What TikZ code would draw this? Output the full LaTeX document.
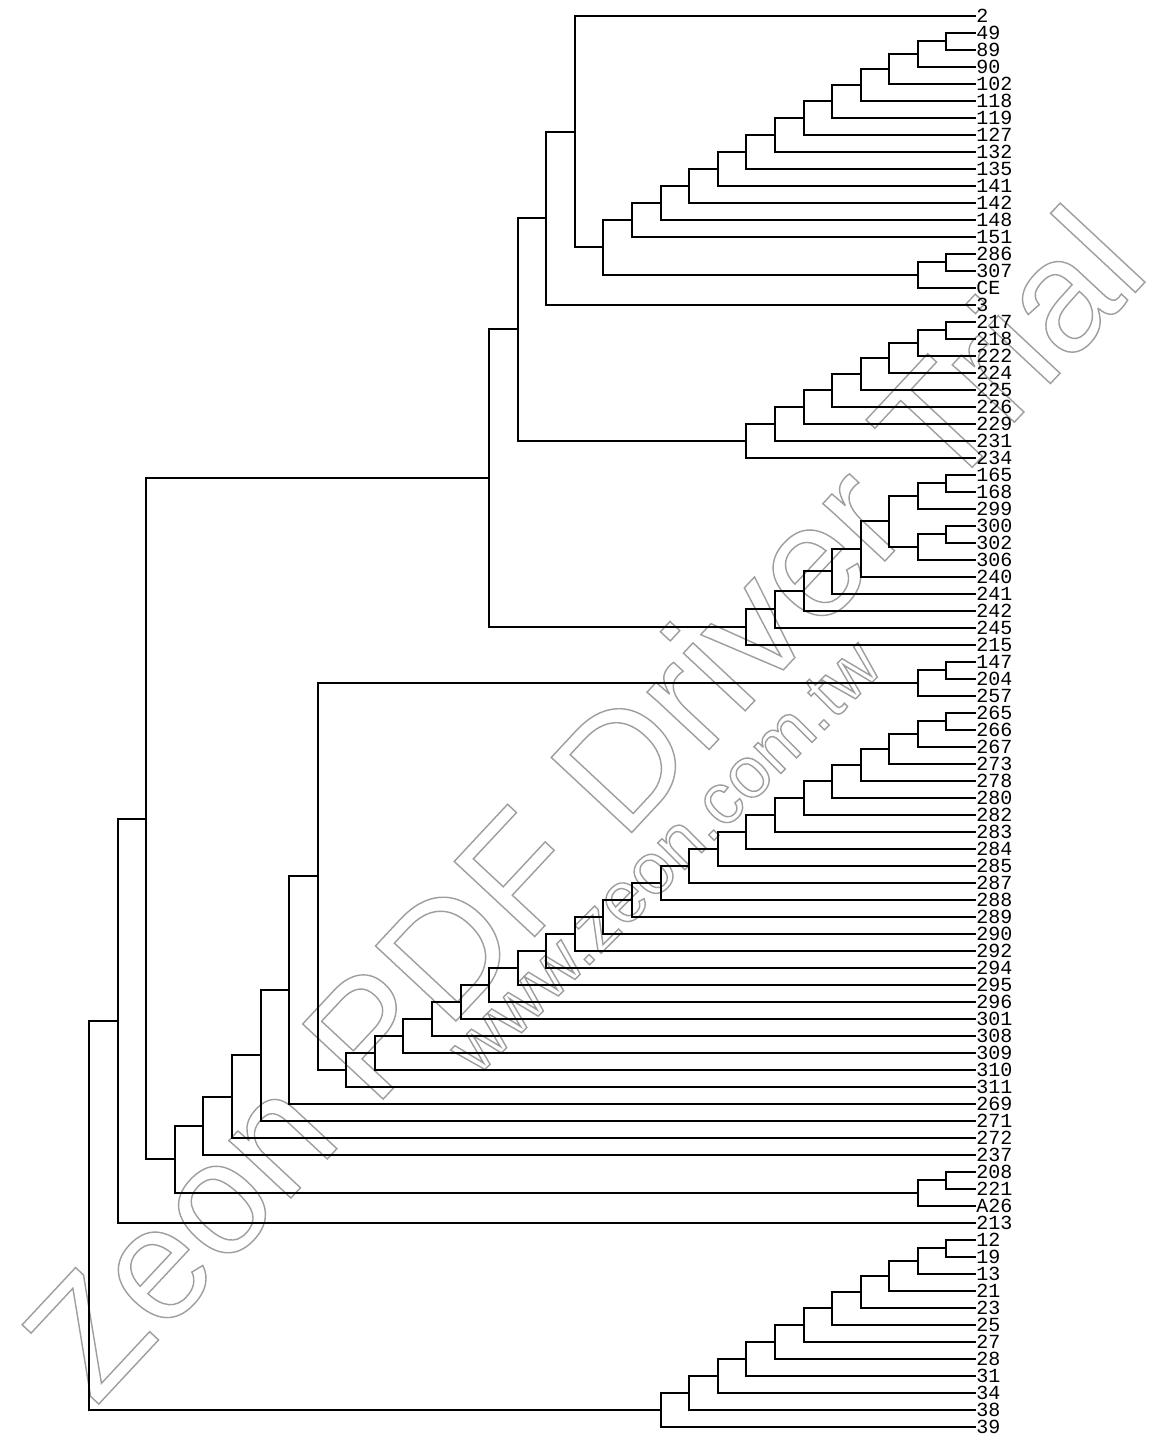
\documentclass[tikz,border=0pt]{standalone}
\usepackage{fontspec}
\setmainfont{Liberation Sans}
\newfontfamily\lblfont{Liberation Mono}
\newfontfamily\wmfont{Liberation Sans}
\usetikzlibrary{calc}
\newcommand\wmon{\special{pdf:literal direct 1 Tr 0.7 w}}
\newcommand\wmoff{\special{pdf:literal direct 0 Tr}}
\newcommand\mrg[4]{%
  \coordinate (#1m) at ($(#2)!0.5!(#3)$);
  \coordinate (#1) at (#1m -| L#4);
  \draw[br] (#2) -| (#1) |- (#3);
}
\tikzset{
  lbl/.style={font=\lblfont\fontsize{10}{10}\selectfont, inner sep=0pt, anchor=west},
  br/.style={line width=1pt, black},
  wmA/.style={font=\wmfont\fontsize{80}{80}\selectfont, text=black!38, inner sep=0pt},
  wmB/.style={font=\wmfont\fontsize{36}{36}\selectfont, text=black!38, inner sep=0pt}
}
\begin{document}
\begin{tikzpicture}[x=0.5pt,y=-0.5pt]
\useasboundingbox (0,0) rectangle (1154,1435);
\fill[white] (0,0) rectangle (1154,1435);
% watermark
\node[wmA, rotate=47] (wm1) at (582,802) {\wmon Zeon PDF Driver Trial\wmoff};
\node[wmB, rotate=45] (wm2) at (665,857) {\wmon www.zeon.com.tw\wmoff};
% levels
\foreach \k in {1,...,31} \coordinate (L\k) at ({975-28.58*\k},0);
% leaves
\foreach \i/\t in {1/2,2/49,3/89,4/90,5/102,6/118,7/119,8/127,9/132,10/135,
 11/141,12/142,13/148,14/151,15/286,16/307,17/CE,18/3,19/217,20/218,
 21/222,22/224,23/225,24/226,25/229,26/231,27/234,28/165,29/168,30/299,
 31/300,32/302,33/306,34/240,35/241,36/242,37/245,38/215,39/147,40/204,
 41/257,42/265,43/266,44/267,45/273,46/278,47/280,48/282,49/283,50/284,
 51/285,52/287,53/288,54/289,55/290,56/292,57/294,58/295,59/296,60/301,
 61/308,62/309,63/310,64/311,65/269,66/271,67/272,68/237,69/208,70/221,
 71/A26,72/213,73/12,74/19,75/13,76/21,77/23,78/25,79/27,80/28,
 81/31,82/34,83/38,84/39}
  \node[lbl] (l\i) at (976,{15.7+(\i-1)*17}) {\t};
% top cluster
\mrg{a1}{l2.west}{l3.west}{1}
\mrg{a2}{a1}{l4.west}{2}
\mrg{a3}{a2}{l5.west}{3}
\mrg{a4}{a3}{l6.west}{4}
\mrg{a5}{a4}{l7.west}{5}
\mrg{a6}{a5}{l8.west}{6}
\mrg{a7}{a6}{l9.west}{7}
\mrg{a8}{a7}{l10.west}{8}
\mrg{a9}{a8}{l11.west}{9}
\mrg{a10}{a9}{l12.west}{10}
\mrg{a11}{a10}{l13.west}{11}
\mrg{a12}{a11}{l14.west}{12}
\mrg{b1}{l15.west}{l16.west}{1}
\mrg{b2}{b1}{l17.west}{2}
\mrg{c1}{a12}{b2}{13}
\mrg{c2}{l1.west}{c1}{14}
\mrg{c3}{c2}{l18.west}{15}
\mrg{d1}{l19.west}{l20.west}{1}
\mrg{d2}{d1}{l21.west}{2}
\mrg{d3}{d2}{l22.west}{3}
\mrg{d4}{d3}{l23.west}{4}
\mrg{d5}{d4}{l24.west}{5}
\mrg{d6}{d5}{l25.west}{6}
\mrg{d7}{d6}{l26.west}{7}
\mrg{d8}{d7}{l27.west}{8}
\mrg{c4}{c3}{d8}{16}
\mrg{e1}{l28.west}{l29.west}{1}
\mrg{e2}{e1}{l30.west}{2}
\mrg{e3}{l31.west}{l32.west}{1}
\mrg{e4}{e3}{l33.west}{2}
\mrg{e5}{e2}{e4}{3}
\mrg{e6}{e5}{l34.west}{4}
\mrg{e7}{e6}{l35.west}{5}
\mrg{e8}{e7}{l36.west}{6}
\mrg{e9}{e8}{l37.west}{7}
\mrg{e10}{e9}{l38.west}{8}
\mrg{c5}{c4}{e10}{17}
% middle cluster
\mrg{f1}{l39.west}{l40.west}{1}
\mrg{f2}{f1}{l41.west}{2}
\mrg{g1}{l42.west}{l43.west}{1}
\mrg{g2}{g1}{l44.west}{2}
\mrg{g3}{g2}{l45.west}{3}
\mrg{g4}{g3}{l46.west}{4}
\mrg{g5}{g4}{l47.west}{5}
\mrg{g6}{g5}{l48.west}{6}
\mrg{g7}{g6}{l49.west}{7}
\mrg{g8}{g7}{l50.west}{8}
\mrg{g9}{g8}{l51.west}{9}
\mrg{g10}{g9}{l52.west}{10}
\mrg{g11}{g10}{l53.west}{11}
\mrg{g12}{g11}{l54.west}{12}
\mrg{g13}{g12}{l55.west}{13}
\mrg{g14}{g13}{l56.west}{14}
\mrg{g15}{g14}{l57.west}{15}
\mrg{g16}{g15}{l58.west}{16}
\mrg{g17}{g16}{l59.west}{17}
\mrg{g18}{g17}{l60.west}{18}
\mrg{g19}{g18}{l61.west}{19}
\mrg{g20}{g19}{l62.west}{20}
\mrg{g21}{g20}{l63.west}{21}
\mrg{g22}{g21}{l64.west}{22}
\mrg{h1}{f2}{g22}{23}
\mrg{h2}{h1}{l65.west}{24}
\mrg{h3}{h2}{l66.west}{25}
\mrg{h4}{h3}{l67.west}{26}
\mrg{h5}{h4}{l68.west}{27}
\mrg{i1}{l69.west}{l70.west}{1}
\mrg{i2}{i1}{l71.west}{2}
\mrg{h6}{h5}{i2}{28}
\mrg{r1}{c5}{h6}{29}
\mrg{r2}{r1}{l72.west}{30}
% bottom cluster
\mrg{j1}{l73.west}{l74.west}{1}
\mrg{j2}{j1}{l75.west}{2}
\mrg{j3}{j2}{l76.west}{3}
\mrg{j4}{j3}{l77.west}{4}
\mrg{j5}{j4}{l78.west}{5}
\mrg{j6}{j5}{l79.west}{6}
\mrg{j7}{j6}{l80.west}{7}
\mrg{j8}{j7}{l81.west}{8}
\mrg{j9}{j8}{l82.west}{9}
\mrg{j10}{j9}{l83.west}{10}
\mrg{j11}{j10}{l84.west}{11}
\mrg{rt}{r2}{j11}{31}
\end{tikzpicture}
\end{document}
